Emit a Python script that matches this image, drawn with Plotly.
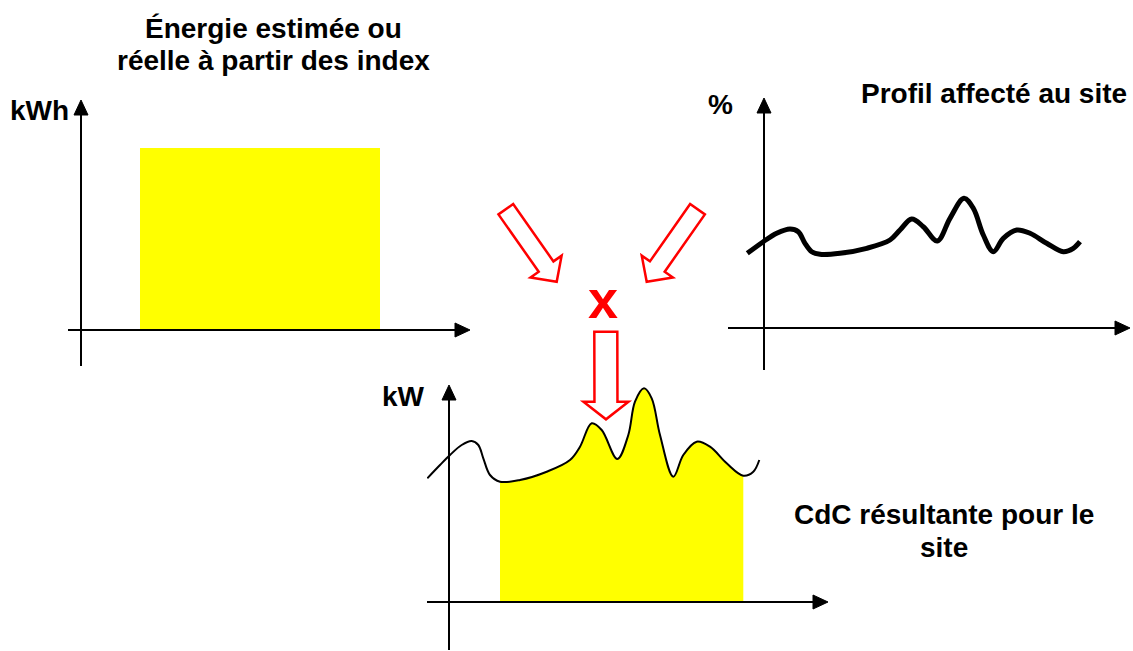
import math
import plotly.graph_objects as go

W, H = 1133, 651

# ---------------- data ----------------
# Chart A: energy block (kWh) over the period
energy_start = [59]
energy_end = [299]
energy_kwh = [182]

# Chart B: load profile assigned to the site (%)
profile_t = [-16.7, -0.7, 12.7, 26, 34.3, 41, 47.7, 56, 76, 102.7, 126, 136, 147.7,
             159.3, 173.3, 186, 200, 209.3, 219.3, 229.3, 239.3, 252.7, 266, 282.7,
             299.3, 309.3, 316]
profile_pct = [74.7, 86.3, 94.7, 99, 96.3, 84.7, 76.3, 73.7, 74.7, 79.7, 88, 98, 109,
               101.3, 87, 109.7, 129.7, 119.7, 93, 76.3, 89.7, 98, 94.7, 84.7,
               76.3, 79.7, 86.3]

# Chart C: resulting load curve (kW)
load_t = [-21.7, -9, 1, 12.7, 22.7, 29.3, 34.3, 41, 51, 71, 97.7, 121, 131, 142.7,
          152.7, 168.3, 179.3, 186, 195, 202.7, 211, 224.3, 234.3, 247.7, 261, 277.7,
          294.3, 304.3, 310.3]
load_kw = [123.7, 137, 147, 157, 161, 157, 143.7, 127, 120.3, 122, 130.3, 142, 155.3,
           178.7, 172, 143, 167, 200.3, 213.7, 203.7, 167, 125.3, 147, 160.3, 155.3,
           138.7, 126.3, 130.3, 142]
fill_first, fill_last = 8, 26  # period covered by the energy block

# text
title_a = ["Énergie estimée ou", "réelle à partir des index"]
title_b = "Profil affecté au site"
title_c = ["CdC résultante pour le", "site"]
unit_a, unit_b, unit_c = "kWh", "%", "kW"
op_label = "x"

# ---------------- helpers ----------------
def dom_x(a, b):
    return [a / W, b / W]

def dom_y(top, bottom):
    return [1 - bottom / H, 1 - top / H]

def pxp(x, y):
    return x / W, 1 - y / H

YELLOW = "#FFFF00"
RED = "#FF0000"
FONT = "Liberation Sans, Arial, sans-serif"

fig = go.Figure()

# Chart A bar
fig.add_trace(go.Bar(
    x=[(s + e) / 2 for s, e in zip(energy_start, energy_end)],
    y=energy_kwh,
    width=[e - s for s, e in zip(energy_start, energy_end)],
    marker=dict(color=YELLOW, line=dict(width=0)),
    xaxis="x", yaxis="y", hoverinfo="skip"))

# Chart B profile line
fig.add_trace(go.Scatter(
    x=profile_t, y=profile_pct, mode="lines",
    line=dict(color="black", width=5, shape="spline", smoothing=1.0),
    xaxis="x2", yaxis="y2", hoverinfo="skip"))

# Chart C fill + line
fig.add_trace(go.Scatter(
    x=load_t[fill_first:fill_last + 1], y=load_kw[fill_first:fill_last + 1],
    mode="lines", fill="tozeroy", fillcolor=YELLOW,
    line=dict(color=YELLOW, width=0, shape="spline", smoothing=1.0),
    xaxis="x3", yaxis="y3", hoverinfo="skip"))
fig.add_trace(go.Scatter(
    x=load_t, y=load_kw, mode="lines",
    line=dict(color="black", width=2, shape="spline", smoothing=1.0),
    xaxis="x3", yaxis="y3", hoverinfo="skip"))

shapes = []

def axes_shapes(xr, yr, xref, yref):
    (x0, x1), (y0, y1) = xr, yr
    al, ah = 15, 7
    shapes.append(dict(type="line", xref=xref, yref=yref, x0=x0, y0=0, x1=x1 - al, y1=0,
                       line=dict(color="black", width=2), layer="above"))
    shapes.append(dict(type="path", xref=xref, yref=yref,
                       path=f"M{x1},0 L{x1 - al},{ah} L{x1 - al},{-ah} Z",
                       fillcolor="black", line=dict(color="black", width=1), layer="above"))
    shapes.append(dict(type="line", xref=xref, yref=yref, x0=0, y0=y0, x1=0, y1=y1 - al,
                       line=dict(color="black", width=2), layer="above"))
    shapes.append(dict(type="path", xref=xref, yref=yref,
                       path=f"M0,{y1} L{ah},{y1 - al} L{-ah},{y1 - al} Z",
                       fillcolor="black", line=dict(color="black", width=1), layer="above"))

rA = ([-13, 389], [-36, 230])
rB = ([-36, 366], [-42, 230])
rC = ([-22, 379], [-48, 217])
axes_shapes(*rA, "x", "y")
axes_shapes(*rB, "x2", "y2")
axes_shapes(*rC, "x3", "y3")

def block_arrow(tail, tip, sw, hw, hl):
    dx, dy = tip[0] - tail[0], tip[1] - tail[1]
    L = math.hypot(dx, dy)
    ux, uy = dx / L, dy / L
    nx, ny = -uy, ux
    bx, by = tip[0] - ux * hl, tip[1] - uy * hl
    pts = [(tail[0] + nx * sw, tail[1] + ny * sw), (bx + nx * sw, by + ny * sw),
           (bx + nx * hw, by + ny * hw), tip, (bx - nx * hw, by - ny * hw),
           (bx - nx * sw, by - ny * sw), (tail[0] - nx * sw, tail[1] - ny * sw)]
    pp = [pxp(x, y) for x, y in pts]
    path = "M" + " L".join(f"{x:.5f},{y:.5f}" for x, y in pp) + " Z"
    shapes.append(dict(type="path", xref="paper", yref="paper", path=path,
                       fillcolor="white", line=dict(color=RED, width=2.5), layer="above"))

block_arrow((505.8, 209.2), (556.7, 281.7), 9, 19, 18.5)
block_arrow((697.5, 209.2), (646.7, 281.7), 9, 19, 18.5)
block_arrow((605.8, 331.7), (606.0, 419.3), 11.5, 22.5, 17.6)

ann = []

def label(text, x, y, size=28, color="black", xanchor="center"):
    px_, py_ = pxp(x, y)
    ann.append(dict(text=f"<b>{text}</b>", x=px_, y=py_, xref="paper", yref="paper",
                    showarrow=False, xanchor=xanchor, yanchor="middle",
                    font=dict(family=FONT, size=size, color=color)))

label(title_a[0], 273, 29)
label(title_a[1], 273, 60)
label(unit_a, 39, 110)
label(unit_b, 720, 105)
label(title_b, 994, 94)
label(unit_c, 403, 397)
label(title_c[0], 944, 514)
label(title_c[1], 944, 547)
label(op_label, 603, 299, size=54, color=RED)

ax_common = dict(visible=False, showgrid=False, zeroline=False, fixedrange=True)
fig.update_layout(
    width=W, height=H, margin=dict(l=0, r=0, t=0, b=0),
    paper_bgcolor="white", plot_bgcolor="rgba(0,0,0,0)", showlegend=False,
    xaxis=dict(domain=dom_x(68, 470), range=rA[0], anchor="y", **ax_common),
    yaxis=dict(domain=dom_y(100, 366), range=rA[1], anchor="x", **ax_common),
    xaxis2=dict(domain=dom_x(728, 1130), range=rB[0], anchor="y2", **ax_common),
    yaxis2=dict(domain=dom_y(98, 370), range=rB[1], anchor="x2", **ax_common),
    xaxis3=dict(domain=dom_x(427, 828), range=rC[0], anchor="y3", **ax_common),
    yaxis3=dict(domain=dom_y(385, 650), range=rC[1], anchor="x3", **ax_common),
    shapes=shapes, annotations=ann, bargap=0,
)

fig.write_html("out.html", config={"displayModeBar": False},
               post_script="document.body.style.margin='0';document.body.style.overflow='hidden';")
